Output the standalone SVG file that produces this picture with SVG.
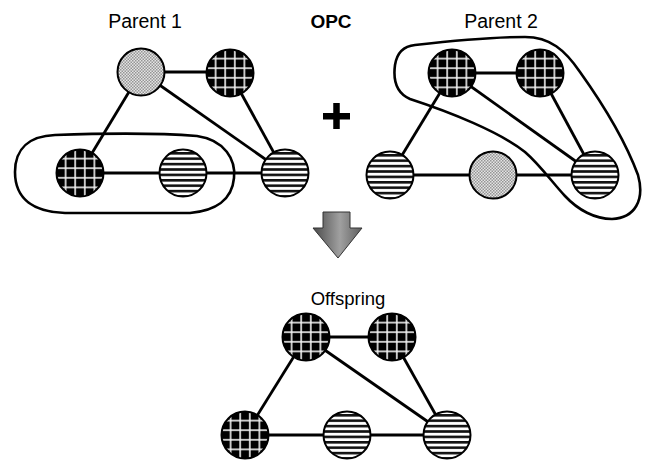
<svg xmlns="http://www.w3.org/2000/svg" width="645" height="460" viewBox="0 0 645 460">
  <defs>
    <!-- node fills: black grid, horizontal stripes, grey stipple -->
    <pattern id="grid" patternUnits="userSpaceOnUse" x="0" y="0" width="9.6" height="9.6">
      <rect width="9.6" height="9.6" fill="#000"/>
      <line x1="4.8" y1="0" x2="4.8" y2="9.6" stroke="#f2f2f2" stroke-width="1.6"/>
      <line x1="0" y1="4.8" x2="9.6" y2="4.8" stroke="#f2f2f2" stroke-width="1.6"/>
    </pattern>
    <pattern id="stripes" patternUnits="userSpaceOnUse" x="0" y="0.6" width="10" height="5.4">
      <rect width="10" height="5.4" fill="#fff"/>
      <rect width="10" height="2.6" fill="#111"/>
    </pattern>
    <pattern id="stipple" patternUnits="userSpaceOnUse" x="0" y="0" width="3" height="3">
      <rect width="3" height="3" fill="#e4e4e4"/>
      <rect width="1.5" height="1.5" fill="#959595"/>
      <rect x="1.5" y="1.5" width="1.5" height="1.5" fill="#959595"/>
    </pattern>
    <linearGradient id="arrowFill" x1="0" y1="0" x2="1" y2="0">
      <stop offset="0" stop-color="#4a4a4a"/>
      <stop offset="0.55" stop-color="#a0a0a0"/>
      <stop offset="1" stop-color="#5e5e5e"/>
    </linearGradient>
    <style>
      .node { stroke: #000; stroke-width: 2; }
      .grid { fill: url(#grid); }
      .stripes { fill: url(#stripes); }
      .stipple { fill: url(#stipple); }
      .edge { stroke: #000; stroke-width: 2.8; fill: none; }
      .hull { stroke: #000; stroke-width: 2.6; fill: none; }
      .label { font-family: "Liberation Sans", Arial, sans-serif; font-size: 19.5px; fill: #000; text-anchor: middle; }
      .title { font-family: "Liberation Sans", Arial, sans-serif; font-size: 19px; font-weight: bold; fill: #000; text-anchor: middle; }
    </style>
  </defs>

  <rect width="645" height="460" fill="#fff"/>

  <!-- labels -->
  <text class="label" x="145" y="28">Parent 1</text>
  <text class="title" x="331" y="28">OPC</text>
  <text class="label" x="501" y="28">Parent 2</text>
  <text class="label" x="348" y="305" style="font-size:18.5px">Offspring</text>

  <!-- selected sub-graphs -->
  <g id="hulls">
    <path class="hull" d="M 55 135 C 110 133 160 133 197 136 C 225 140 236 160 234 178 C 232 200 215 211 190 213 L 65 213 C 35 212 15 200 15 172 C 15 148 30 136 55 135 Z"/>
    <path class="hull" d="M 415 45 C 450 41 490 37 525 37 C 550 37 565 50 580 72 C 600 100 625 140 638 175 C 645 200 635 218 612 219 C 595 219 578 210 565 196 C 552 182 540 165 525 152 C 500 132 450 112 410 99 C 396 93 393 80 395 65 C 397 52 405 46 415 45 Z"/>
  </g>

  <!-- connectors -->
  <g id="connectors">
    <!-- parent 1 -->
    <line class="edge" x1="141" y1="72" x2="230" y2="72"/>
    <line class="edge" x1="141" y1="72" x2="80" y2="173"/>
    <line class="edge" x1="141" y1="72" x2="285" y2="173"/>
    <line class="edge" x1="230" y1="73" x2="285" y2="173"/>
    <line class="edge" x1="80" y1="173" x2="285" y2="173"/>
    <!-- parent 2 -->
    <line class="edge" x1="452" y1="73" x2="540" y2="73"/>
    <line class="edge" x1="452" y1="73" x2="390" y2="175"/>
    <line class="edge" x1="452" y1="73" x2="595" y2="175"/>
    <line class="edge" x1="540" y1="73" x2="595" y2="175"/>
    <line class="edge" x1="390" y1="175" x2="595" y2="175"/>
    <!-- offspring -->
    <line class="edge" x1="306" y1="337" x2="392" y2="337"/>
    <line class="edge" x1="306" y1="337" x2="245" y2="435"/>
    <line class="edge" x1="306" y1="337" x2="447" y2="435"/>
    <line class="edge" x1="392" y1="337" x2="447" y2="435"/>
    <line class="edge" x1="245" y1="435" x2="447" y2="435"/>
  </g>

  <!-- parent 1 nodes -->
  <g id="p1-a" transform="translate(141 72)"><circle class="node stipple" r="23.5"/></g>
  <g id="p1-b" transform="translate(230 73)"><circle class="node grid" r="23.5"/></g>
  <g id="p1-c" transform="translate(80 173)"><circle class="node grid" r="23.5"/></g>
  <g id="p1-d" transform="translate(183 173)"><circle class="node stripes" r="23.5"/></g>
  <g id="p1-e" transform="translate(285 173)"><circle class="node stripes" r="23.5"/></g>

  <!-- parent 2 nodes -->
  <g id="p2-a" transform="translate(452 73)"><circle class="node grid" r="23.5"/></g>
  <g id="p2-b" transform="translate(540 73)"><circle class="node grid" r="23.5"/></g>
  <g id="p2-c" transform="translate(390 175)"><circle class="node stripes" r="23.5"/></g>
  <g id="p2-d" transform="translate(493 175)"><circle class="node stipple" r="23.5"/></g>
  <g id="p2-e" transform="translate(595 175)"><circle class="node stripes" r="23.5"/></g>

  <!-- offspring nodes -->
  <g id="off-a" transform="translate(306 337)"><circle class="node grid" r="23.5"/></g>
  <g id="off-b" transform="translate(392 337)"><circle class="node grid" r="23.5"/></g>
  <g id="off-c" transform="translate(245 435)"><circle class="node grid" r="23.5"/></g>
  <g id="off-d" transform="translate(347 435)"><circle class="node stripes" r="23.5"/></g>
  <g id="off-e" transform="translate(447 435)"><circle class="node stripes" r="23.5"/></g>

  <!-- crossover plus sign -->
  <g id="plus">
    <rect x="323" y="113" width="27" height="6.5" fill="#000"/>
    <rect x="333.25" y="103" width="6.5" height="26" fill="#000"/>
  </g>

  <!-- down arrow -->
  <g id="arrow">
    <path d="M 323 212 L 350 212 L 350 228 L 362 228 L 338 258 L 313 228 L 323 228 Z" fill="url(#arrowFill)" stroke="#333" stroke-width="1"/>
  </g>
</svg>
